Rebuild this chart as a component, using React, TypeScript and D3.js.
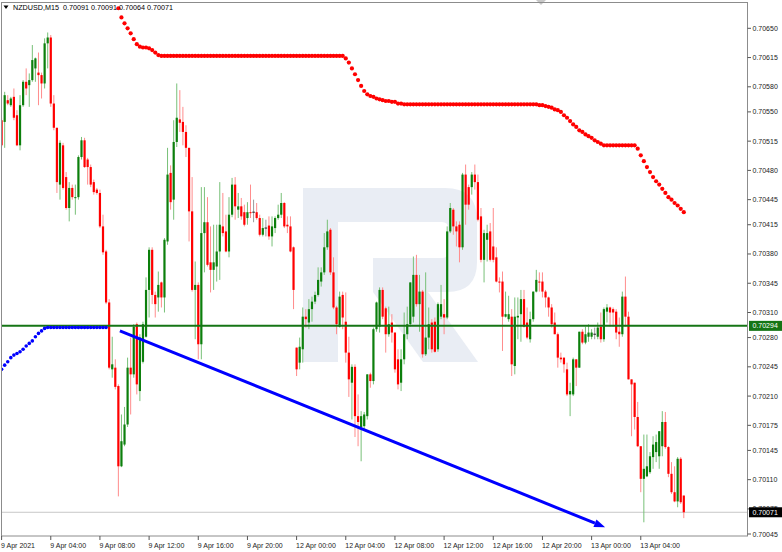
import React from "react";
import * as d3 from "d3";

const symbolTitle = "NZDUSD,M15";
const lastQuote = "0.70091 0.70091 0.70064 0.70071";

const timeLabels = [
  "9 Apr 2021", "9 Apr 04:00", "9 Apr 08:00", "9 Apr 12:00", "9 Apr 16:00", "9 Apr 20:00",
  "12 Apr 00:00", "12 Apr 04:00", "12 Apr 08:00", "12 Apr 12:00", "12 Apr 16:00", "12 Apr 20:00",
  "13 Apr 00:00", "13 Apr 04:00",
];
const timeLabelBars = [0, 16, 32, 48, 64, 80, 96, 112, 128, 144, 160, 176, 192, 208];

const priceTicks = [
  0.7065, 0.70615, 0.7058, 0.7055, 0.70515, 0.7048, 0.70445, 0.70415, 0.7038, 0.70345,
  0.7031, 0.7028, 0.70245, 0.7021, 0.70175, 0.70145, 0.7011, 0.70075, 0.70045,
];

// [open, high, low, close]
const candles: [number, number, number, number][] = [
  [0.7054, 0.70543, 0.70508, 0.7051], [0.70538, 0.70574, 0.70507, 0.7057], [0.70564, 0.7057, 0.70558, 0.7056],
  [0.70558, 0.70568, 0.70556, 0.70566], [0.70568, 0.70578, 0.7054, 0.70543], [0.70546, 0.70552, 0.70509, 0.7051],
  [0.7051, 0.7057, 0.70504, 0.70558], [0.70558, 0.70588, 0.70556, 0.70586], [0.70586, 0.70602, 0.7057, 0.70578],
  [0.70582, 0.70596, 0.70556, 0.70588], [0.70588, 0.7063, 0.70586, 0.70612], [0.70602, 0.70615, 0.70586, 0.70614],
  [0.70597, 0.70621, 0.70558, 0.70594], [0.70594, 0.70597, 0.70566, 0.70584], [0.70584, 0.70638, 0.70578, 0.70632],
  [0.70632, 0.70645, 0.70602, 0.70639], [0.70639, 0.70642, 0.70556, 0.7056], [0.7056, 0.7057, 0.70528, 0.70531],
  [0.70531, 0.70531, 0.70453, 0.70466], [0.70463, 0.70516, 0.70445, 0.70513], [0.7051, 0.70513, 0.70457, 0.70459],
  [0.70472, 0.70478, 0.70433, 0.70435], [0.70435, 0.70466, 0.70419, 0.70459], [0.70459, 0.70463, 0.70445, 0.70448],
  [0.70447, 0.70463, 0.70427, 0.70448], [0.70448, 0.70498, 0.70445, 0.70496], [0.70496, 0.7052, 0.70493, 0.70516],
  [0.70516, 0.70519, 0.70483, 0.70484], [0.70493, 0.70495, 0.70463, 0.70484], [0.70484, 0.70487, 0.7046, 0.70463],
  [0.70466, 0.70469, 0.70451, 0.70454], [0.70457, 0.70459, 0.70451, 0.70453], [0.70453, 0.70457, 0.70411, 0.70413],
  [0.70413, 0.70427, 0.70379, 0.70382], [0.70383, 0.70385, 0.7032, 0.70322], [0.70322, 0.70326, 0.70242, 0.70244],
  [0.70242, 0.70281, 0.70232, 0.70248], [0.70244, 0.70254, 0.70218, 0.70221], [0.70222, 0.70224, 0.7009, 0.70126],
  [0.70126, 0.70188, 0.70125, 0.70156], [0.70152, 0.70197, 0.7015, 0.70176], [0.70176, 0.70256, 0.70173, 0.70244],
  [0.70244, 0.7028, 0.70188, 0.70236], [0.70236, 0.70296, 0.70232, 0.70293], [0.70296, 0.70298, 0.70212, 0.70224],
  [0.70216, 0.70284, 0.70204, 0.7028], [0.70251, 0.70299, 0.70249, 0.70296], [0.70281, 0.70352, 0.7028, 0.70337],
  [0.70337, 0.70388, 0.70304, 0.70385], [0.70385, 0.70388, 0.7032, 0.70331], [0.70331, 0.70335, 0.70304, 0.7032],
  [0.70328, 0.70359, 0.70311, 0.70343], [0.70346, 0.70347, 0.70316, 0.70328], [0.70328, 0.70399, 0.7031, 0.70397],
  [0.70395, 0.70507, 0.70391, 0.70475], [0.70477, 0.70486, 0.70433, 0.70442], [0.70445, 0.7054, 0.70421, 0.70514],
  [0.70514, 0.70584, 0.70508, 0.70543], [0.70541, 0.70576, 0.70526, 0.70537], [0.70538, 0.70556, 0.7051, 0.70526],
  [0.70526, 0.70534, 0.70496, 0.70507], [0.70507, 0.70507, 0.70395, 0.70431], [0.70431, 0.70472, 0.70335, 0.70337],
  [0.70337, 0.70371, 0.70278, 0.70343], [0.70343, 0.70346, 0.70254, 0.70272], [0.70272, 0.7046, 0.70254, 0.70405],
  [0.70405, 0.7046, 0.70358, 0.70418], [0.70418, 0.70448, 0.70365, 0.70367], [0.7037, 0.70413, 0.70334, 0.70361],
  [0.70361, 0.70415, 0.70337, 0.7037], [0.70365, 0.70415, 0.70347, 0.70383], [0.70383, 0.70466, 0.70349, 0.70415],
  [0.70413, 0.70453, 0.70401, 0.70405], [0.70407, 0.70427, 0.70382, 0.70383], [0.70383, 0.70448, 0.70376, 0.70427],
  [0.70427, 0.70471, 0.70424, 0.70463], [0.70463, 0.70472, 0.70421, 0.70437], [0.70433, 0.70453, 0.70423, 0.70437],
  [0.70437, 0.70447, 0.70421, 0.70425], [0.7043, 0.70439, 0.70413, 0.70415], [0.70423, 0.70442, 0.70415, 0.7043],
  [0.7043, 0.70463, 0.70423, 0.70429], [0.7043, 0.70445, 0.70418, 0.7043], [0.7043, 0.70441, 0.70421, 0.70423],
  [0.70423, 0.70427, 0.70401, 0.70403], [0.70403, 0.70423, 0.70401, 0.70411], [0.70411, 0.70421, 0.70401, 0.70411],
  [0.70414, 0.70425, 0.70397, 0.70401], [0.70401, 0.70425, 0.70389, 0.70413], [0.70411, 0.70425, 0.70405, 0.70423],
  [0.70423, 0.70439, 0.70421, 0.70427], [0.70427, 0.70453, 0.70423, 0.70441], [0.70441, 0.70442, 0.70411, 0.70413],
  [0.70415, 0.70425, 0.70405, 0.70413], [0.70413, 0.70425, 0.70382, 0.70383], [0.70388, 0.70389, 0.70314, 0.70337],
  [0.70268, 0.70268, 0.70234, 0.70242], [0.7025, 0.7028, 0.70242, 0.70269], [0.70266, 0.70316, 0.7025, 0.70305],
  [0.70305, 0.70314, 0.70292, 0.70302], [0.70298, 0.70326, 0.7029, 0.70314], [0.70314, 0.70329, 0.70299, 0.70323],
  [0.70323, 0.70335, 0.7032, 0.70331], [0.70331, 0.70364, 0.70329, 0.70349], [0.70347, 0.70364, 0.70341, 0.70358],
  [0.70358, 0.70405, 0.70355, 0.70388], [0.70388, 0.70421, 0.70385, 0.70407], [0.70409, 0.70411, 0.70355, 0.70358],
  [0.70358, 0.70376, 0.70314, 0.70316], [0.70316, 0.70318, 0.70284, 0.70296], [0.70293, 0.70335, 0.70292, 0.70329],
  [0.70331, 0.70335, 0.7029, 0.70304], [0.70299, 0.70334, 0.7025, 0.70262], [0.70262, 0.70281, 0.70209, 0.7023],
  [0.70226, 0.70248, 0.70182, 0.70245], [0.70245, 0.70248, 0.70161, 0.70186], [0.70186, 0.70212, 0.7015, 0.70179],
  [0.70173, 0.70192, 0.70132, 0.70186], [0.70174, 0.70191, 0.7017, 0.70188], [0.70186, 0.70236, 0.70182, 0.70236],
  [0.70236, 0.70238, 0.7022, 0.70228], [0.70228, 0.70292, 0.70224, 0.7029], [0.7029, 0.70323, 0.70287, 0.70322],
  [0.70293, 0.7034, 0.70286, 0.70337], [0.70337, 0.7034, 0.70302, 0.70305], [0.70315, 0.70317, 0.70262, 0.70284],
  [0.70284, 0.70317, 0.70281, 0.70296], [0.70298, 0.70308, 0.70274, 0.70286], [0.70286, 0.70286, 0.70238, 0.70242],
  [0.70254, 0.70266, 0.70218, 0.70224], [0.70226, 0.70266, 0.70216, 0.70254], [0.70254, 0.7031, 0.70248, 0.70284],
  [0.70284, 0.70317, 0.70278, 0.70296], [0.70296, 0.70346, 0.70293, 0.70346], [0.70305, 0.70377, 0.70298, 0.70355],
  [0.70355, 0.70379, 0.70317, 0.7032], [0.7032, 0.70355, 0.70287, 0.70335], [0.70335, 0.70337, 0.70256, 0.7026],
  [0.7026, 0.70358, 0.70258, 0.7028], [0.7028, 0.70316, 0.70266, 0.70296], [0.70298, 0.70302, 0.70262, 0.70266],
  [0.70299, 0.70304, 0.70262, 0.70263], [0.70266, 0.70322, 0.70263, 0.7032], [0.70305, 0.70343, 0.70302, 0.7032],
  [0.70308, 0.70326, 0.70284, 0.70304], [0.70304, 0.70413, 0.70302, 0.70407], [0.70407, 0.70441, 0.70405, 0.70435],
  [0.70433, 0.70435, 0.70403, 0.70413], [0.70413, 0.70419, 0.70389, 0.70407], [0.70415, 0.70419, 0.7037, 0.70388],
  [0.70388, 0.70477, 0.70385, 0.70475], [0.70475, 0.70487, 0.70415, 0.70439], [0.7046, 0.70463, 0.70433, 0.70439],
  [0.7046, 0.70478, 0.70451, 0.70475], [0.70475, 0.70487, 0.70457, 0.70466], [0.70466, 0.70475, 0.70419, 0.70421],
  [0.70425, 0.70435, 0.7037, 0.70373], [0.70373, 0.70409, 0.70346, 0.70405], [0.70397, 0.70415, 0.70371, 0.70405],
  [0.70407, 0.70417, 0.70371, 0.70373], [0.70389, 0.70435, 0.7037, 0.70373], [0.70376, 0.70388, 0.70346, 0.70347],
  [0.70347, 0.70352, 0.70334, 0.70346], [0.70347, 0.70359, 0.70264, 0.70305], [0.70305, 0.70335, 0.70304, 0.70308],
  [0.70302, 0.7033, 0.70299, 0.70308], [0.70305, 0.70314, 0.70234, 0.70248], [0.70246, 0.70328, 0.70236, 0.70305],
  [0.70304, 0.70328, 0.70278, 0.70306], [0.70308, 0.70337, 0.70275, 0.70326], [0.70326, 0.70337, 0.70292, 0.70293],
  [0.70298, 0.70316, 0.70278, 0.7028], [0.70278, 0.70311, 0.70274, 0.70302], [0.70302, 0.70335, 0.70299, 0.70335],
  [0.70335, 0.70361, 0.70334, 0.70349], [0.70347, 0.70358, 0.70335, 0.70346], [0.70347, 0.70358, 0.70328, 0.70335],
  [0.70335, 0.70337, 0.70316, 0.70328], [0.70328, 0.70329, 0.70305, 0.70316], [0.70316, 0.7032, 0.70292, 0.70296],
  [0.70298, 0.7031, 0.70284, 0.70284], [0.70284, 0.70286, 0.70244, 0.70256], [0.70256, 0.70262, 0.7025, 0.70254],
  [0.70256, 0.70256, 0.70238, 0.70248], [0.70242, 0.7025, 0.7021, 0.70212], [0.70212, 0.70226, 0.70186, 0.70216],
  [0.70212, 0.70256, 0.7021, 0.70254], [0.70254, 0.70254, 0.70222, 0.70244], [0.70244, 0.70287, 0.70244, 0.70287],
  [0.70287, 0.7029, 0.70272, 0.70274], [0.70274, 0.70293, 0.70272, 0.70284], [0.70281, 0.70296, 0.70275, 0.70286],
  [0.70281, 0.7029, 0.70278, 0.70286], [0.70284, 0.70292, 0.70278, 0.70284], [0.70281, 0.70298, 0.70278, 0.70292],
  [0.70293, 0.7031, 0.70274, 0.70278], [0.70278, 0.70316, 0.70275, 0.70314], [0.70311, 0.7032, 0.70298, 0.70316],
  [0.70316, 0.70317, 0.70293, 0.7031], [0.70314, 0.70316, 0.70293, 0.7031], [0.70311, 0.70314, 0.70278, 0.70286],
  [0.70287, 0.70304, 0.70269, 0.70284], [0.70284, 0.70335, 0.70281, 0.70329], [0.70329, 0.70353, 0.70293, 0.70305],
  [0.70305, 0.70311, 0.7023, 0.7023], [0.7023, 0.7023, 0.70162, 0.70224], [0.70226, 0.70226, 0.7017, 0.70185],
  [0.70185, 0.70203, 0.70149, 0.7015], [0.7015, 0.7015, 0.70095, 0.70111], [0.70111, 0.70164, 0.70059, 0.70123],
  [0.70114, 0.70164, 0.70113, 0.70126], [0.70119, 0.70143, 0.70117, 0.70138], [0.70137, 0.70162, 0.70123, 0.70152],
  [0.70143, 0.70164, 0.70131, 0.70155], [0.70138, 0.70168, 0.70123, 0.70168], [0.7015, 0.70192, 0.70138, 0.70179],
  [0.70179, 0.70191, 0.70147, 0.70149], [0.70149, 0.7015, 0.70113, 0.70117], [0.70117, 0.70131, 0.70093, 0.70095],
  [0.70095, 0.70126, 0.70083, 0.70084], [0.70084, 0.70137, 0.70077, 0.70135], [0.70135, 0.70137, 0.70081, 0.70083],
  [0.70091, 0.70091, 0.70064, 0.70071],
];

// red trailing dots, first bar index 38
const stopDotsStart = 38;
const stopDots = [
  0.70674, 0.70663, 0.70656, 0.7065, 0.70644, 0.70637, 0.70631, 0.70628, 0.70627, 0.70627,
  0.70626, 0.70624, 0.70621, 0.70618, 0.70617,
  0.70617, 0.70617, 0.70617, 0.70617, 0.70617, 0.70617, 0.70617, 0.70617, 0.70617, 0.70617,
  0.70617, 0.70617, 0.70617, 0.70617, 0.70617, 0.70617, 0.70617, 0.70617, 0.70617, 0.70617,
  0.70617, 0.70617, 0.70617, 0.70617, 0.70617, 0.70617, 0.70617, 0.70617, 0.70617, 0.70617,
  0.70617, 0.70617, 0.70617, 0.70617, 0.70617, 0.70617, 0.70617, 0.70617, 0.70617, 0.70617,
  0.70617, 0.70617, 0.70617, 0.70617, 0.70617, 0.70617, 0.70617, 0.70617, 0.70617, 0.70617,
  0.70617, 0.70617, 0.70617, 0.70617, 0.70617, 0.70617, 0.70617, 0.70617, 0.70617,
  0.70614, 0.70609, 0.70602, 0.70595, 0.70588, 0.70581, 0.70575, 0.70571, 0.70569, 0.70568,
  0.70566, 0.70565, 0.70564, 0.70563, 0.70563, 0.70562, 0.70562, 0.7056, 0.7056,
  0.70559, 0.70559, 0.70559, 0.70559, 0.70559, 0.70559, 0.70559, 0.70559, 0.70559, 0.70559,
  0.70559, 0.70559, 0.70559, 0.70559, 0.70559, 0.70559, 0.70559, 0.70559, 0.70559, 0.70559,
  0.70559, 0.70559, 0.70559, 0.70559, 0.70559, 0.70559, 0.70559, 0.70559, 0.70559, 0.70559,
  0.70559, 0.70559, 0.70559, 0.70559, 0.70559, 0.70559, 0.70559, 0.70559, 0.70559, 0.70559,
  0.70559, 0.70559, 0.70559,
  0.70559, 0.70558, 0.70558, 0.70557, 0.70556, 0.70555, 0.70553, 0.70552, 0.7055, 0.70546,
  0.70543, 0.70539, 0.70535, 0.70532, 0.70528, 0.70526, 0.70523, 0.70521, 0.70519, 0.70516,
  0.70514, 0.70512, 0.7051,
  0.7051, 0.7051, 0.7051, 0.7051, 0.7051, 0.7051, 0.7051, 0.7051, 0.7051, 0.7051,
  0.70506, 0.70498, 0.70491, 0.70484, 0.70478, 0.70472, 0.70467, 0.70463, 0.70458, 0.70453,
  0.70448, 0.70445, 0.70441, 0.70438, 0.70434, 0.7043,
];

// blue trailing dots, first bar index 0
const supportDots = [
  0.70242, 0.70247, 0.70251, 0.70256, 0.70259, 0.70261, 0.70263, 0.70266, 0.7027, 0.70273,
  0.70276, 0.70281, 0.70285, 0.70288, 0.70291,
  0.70292, 0.70292, 0.70292, 0.70292, 0.70292, 0.70292, 0.70292, 0.70292, 0.70292, 0.70292,
  0.70292, 0.70292, 0.70292, 0.70292, 0.70292, 0.70292, 0.70292, 0.70292, 0.70292, 0.70292,
];

const levelLine = 0.70294;
const bidLine = 0.70071;
const trendStart: [number, number] = [38.5, 0.70288];
const trendEnd: [number, number] = [196.4, 0.70053];

const FONT = "'Liberation Sans', Arial, sans-serif";

export default function App() {
  const W = 782;
  const H = 552;
  const left = 1.5, right = 747.5, top = 2.5, bottom = 536;
  const x = d3.scaleLinear().domain([0, 222]).range([1.6, 683.8]);
  const y = d3.scaleLinear().domain([0.70045, 0.7065]).range([534, 28.3]);

  const bullBody = "#0c7f0c";
  const bullWick = "#78c078";
  const bearBody = "#ff0000";
  const bearWick = "#ff8c8c";
  const lvlColor = "#157515";

  const [tx1, ty1] = [x(trendStart[0]), y(trendStart[1])];
  const [tx2, ty2] = [x(trendEnd[0]), y(trendEnd[1])];
  const ang = Math.atan2(ty2 - ty1, tx2 - tx1);
  const aL = 11, aW = 4;
  const bx = tx2 - aL * Math.cos(ang), by = ty2 - aL * Math.sin(ang);
  const arrow = [
    [tx2, ty2],
    [bx + aW * Math.sin(ang), by - aW * Math.cos(ang)],
    [bx - aW * Math.sin(ang), by + aW * Math.cos(ang)],
  ].map((p) => p.join(",")).join(" ");

  return (
    <svg width={W} height={H} style={{ position: "fixed", left: 0, top: 0, background: "#fff" }} fontFamily={FONT}>
      <rect x={0} y={0} width={W} height={H} fill="#fff" />
      <defs>
        <clipPath id="plotClip">
          <rect x={left} y={top} width={right - left} height={bottom - top} />
        </clipPath>
      </defs>
      <g clipPath="url(#plotClip)">
        {/* watermark */}
        <g fill="#e9edf4">
          <path d="M303,188 H338 V362 H303 Z" />
          <path d="M338,188 H445 Q477,188 477,220 V262 Q477,292 447,292 H373 V258 H442 Q448,258 448,252 V228 Q448,222 442,222 H338 Z" />
          <path d="M373,292 H428 L478,362 H423 Z" />
        </g>
        {/* bid line */}
        <line x1={left} x2={right} y1={y(bidLine)} y2={y(bidLine)} stroke="#c8c8c8" strokeWidth={1} />
        {/* candles */}
        {candles.map(([o, h, l, c], i) => {
          const cx = x(i);
          const up = c > o;
          const flat = c === o;
          const yTop = y(Math.max(o, c));
          const yBot = y(Math.min(o, c));
          return (
            <g key={i}>
              <line x1={cx} x2={cx} y1={y(h)} y2={y(l)} stroke={flat ? "#999" : up ? bullWick : bearWick} strokeWidth={1} />
              {flat ? (
                <line x1={cx - 1.3} x2={cx + 1.3} y1={yTop} y2={yTop} stroke="#222" strokeWidth={1} />
              ) : (
                <rect x={cx - 1.1} y={yTop} width={2.2} height={Math.max(1, yBot - yTop)} fill={up ? bullBody : bearBody} />
              )}
            </g>
          );
        })}
        {/* horizontal level */}
        <line x1={left} x2={right} y1={y(levelLine)} y2={y(levelLine)} stroke={lvlColor} strokeWidth={2} />
        {/* dots */}
        {supportDots.map((v, i) => (
          <circle key={"b" + i} cx={x(i)} cy={y(v)} r={1.8} fill="#0000ff" />
        ))}
        {stopDots.map((v, i) => (
          <circle key={"r" + i} cx={x(stopDotsStart + i)} cy={y(v)} r={2.1} fill="#ff0000" />
        ))}
        {/* trend line */}
        <line x1={tx1} y1={ty1} x2={bx} y2={by} stroke="#0000ff" strokeWidth={3} />
        <polygon points={arrow} fill="#0000ff" />
      </g>
      {/* top marker */}
      <polygon points="536,0 546,0 541,5" fill="#c8c8c8" />
      {/* frame */}
      <rect x={left} y={top} width={right - left} height={bottom - top} fill="none" stroke="#8c8c8c" strokeWidth={1} />
      {/* price axis */}
      {priceTicks.map((v, i) => (
        <g key={"p" + i}>
          <line x1={right} x2={right + 3.5} y1={y(v)} y2={y(v)} stroke="#555" strokeWidth={1} />
          <text x={752.5} y={y(v) + 2.5} fontSize={7} fill="#222">{v.toFixed(5)}</text>
        </g>
      ))}
      <rect x={749} y={y(levelLine) - 5} width={33} height={10} fill={lvlColor} />
      <text x={752.5} y={y(levelLine) + 2.5} fontSize={7} fill="#fff">{levelLine.toFixed(5)}</text>
      <rect x={749} y={y(bidLine) - 5} width={33} height={10} fill="#000" />
      <text x={752.5} y={y(bidLine) + 2.5} fontSize={7} fill="#fff">{bidLine.toFixed(5)}</text>
      {/* time axis */}
      {timeLabels.map((t, i) => {
        const tx = x(timeLabelBars[i]);
        return (
          <g key={"t" + i}>
            <line x1={tx} x2={tx} y1={bottom} y2={bottom + 4} stroke="#555" strokeWidth={1} />
            <text x={tx - 0.5} y={547.5} fontSize={7} fill="#222">{t}</text>
          </g>
        );
      })}
      {/* header */}
      <polygon points="3.5,5.5 8.5,5.5 6,9" fill="#000" />
      <text x={13} y={9.5} fontSize={7.2} fill="#000">{symbolTitle}</text>
      <text x={63} y={9.5} fontSize={7.2} fill="#000">{lastQuote}</text>
    </svg>
  );
}
